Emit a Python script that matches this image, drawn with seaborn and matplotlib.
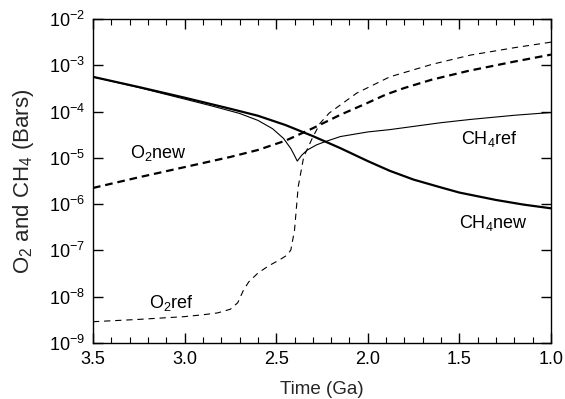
import numpy as np
import pandas as pd
import matplotlib
matplotlib.use("Agg")
import matplotlib.pyplot as plt
from matplotlib.ticker import MultipleLocator, NullLocator, FixedLocator, LogFormatterSciNotation
import seaborn as sns

# ---- data (time in Ga, log10 of pressure in bars) ----
ch4_new_t = [3.5, 3.25, 3.0, 2.75, 2.6, 2.45, 2.3, 2.15, 2.0, 1.88, 1.75, 1.6, 1.5, 1.3, 1.15, 1.0]
ch4_new_log = [-3.25, -3.47, -3.70, -3.94, -4.09, -4.29, -4.53, -4.79, -5.07, -5.28, -5.47, -5.64,
               -5.75, -5.91, -6.01, -6.09]

ch4_ref_t = [3.5, 3.25, 3.0, 2.85, 2.7, 2.6, 2.52, 2.46, 2.42, 2.40, 2.385, 2.36, 2.33, 2.28, 2.24,
             2.15, 2.0, 1.88, 1.6, 1.44, 1.2, 1.0]
ch4_ref_log = [-3.25, -3.48, -3.73, -3.88, -4.04, -4.19, -4.37, -4.58, -4.80, -4.95, -5.07, -4.94,
               -4.83, -4.72, -4.66, -4.54, -4.44, -4.39, -4.24, -4.17, -4.08, -4.02]

o2_new_t = [3.5, 3.25, 3.0, 2.75, 2.6, 2.45, 2.3, 2.15, 2.0, 1.9, 1.8, 1.65, 1.45, 1.2, 1.0]
o2_new_log = [-5.65, -5.42, -5.20, -4.98, -4.83, -4.63, -4.36, -4.07, -3.81, -3.63, -3.49, -3.31,
              -3.12, -2.92, -2.77]

o2_ref_t = [3.5, 3.25, 3.0, 2.9, 2.82, 2.75, 2.71, 2.68, 2.65, 2.60, 2.54, 2.48, 2.44, 2.42, 2.40,
            2.38, 2.35, 2.30, 2.26, 2.21, 2.06, 1.88, 1.65, 1.44, 1.2, 1.0]
o2_ref_log = [-8.54, -8.49, -8.43, -8.39, -8.35, -8.27, -8.13, -7.87, -7.68, -7.49, -7.33, -7.20,
              -7.10, -6.99, -6.56, -5.63, -4.98, -4.55, -4.25, -4.03, -3.60, -3.25, -2.98, -2.78,
              -2.62, -2.50]

labels = {
    "O$_2$new": (3.145, -4.894),
    "O$_2$ref": (3.074, -8.134),
    "CH$_4$ref": (1.336, -4.59),
    "CH$_4$new": (1.314, -6.406),
}

x_ticks = [3.5, 3.0, 2.5, 2.0, 1.5, 1.0]
y_tick_exps = [-9, -8, -7, -6, -5, -4, -3, -2]
x_label = "Time (Ga)"
y_label = "O$_2$ and CH$_4$ (Bars)"

# ---- styling ----
sns.set_theme(style="ticks")
plt.rcParams["font.family"] = ["Liberation Sans", "DejaVu Sans"]
plt.rcParams["mathtext.fontset"] = "custom"
plt.rcParams["mathtext.rm"] = "Liberation Sans"
plt.rcParams["mathtext.it"] = "Liberation Sans:italic"
plt.rcParams["mathtext.bf"] = "Liberation Sans:bold"
plt.rcParams["lines.scale_dashes"] = False
plt.rcParams["axes.linewidth"] = 1.0

fig = plt.figure(figsize=(5.65, 3.99), dpi=100)
ax = fig.add_axes([93 / 565, 1 - 343 / 399, (551 - 93) / 565, (343 - 19) / 399])

def pw(v):
    return 10.0 ** np.asarray(v, dtype=float)

sns.lineplot(x=ch4_new_t, y=pw(ch4_new_log), ax=ax, color="black", lw=1.6, sort=False)
sns.lineplot(x=ch4_ref_t, y=pw(ch4_ref_log), ax=ax, color="black", lw=0.8, sort=False)
sns.lineplot(x=o2_new_t, y=pw(o2_new_log), ax=ax, color="black", lw=1.6, sort=False,
             linestyle=(0, (5.5, 3.5)))
sns.lineplot(x=o2_ref_t, y=pw(o2_ref_log), ax=ax, color="black", lw=0.8, sort=False,
             linestyle=(0, (4.5, 3.5)))

ax.set_yscale("log")
ax.set_xlim(3.5, 1.0)
ax.set_ylim(1e-9, 1e-2)
ax.set_xticks(x_ticks)
ax.set_xticklabels([f"{t:.1f}" for t in x_ticks])
ax.xaxis.set_minor_locator(MultipleLocator(0.1))
ax.yaxis.set_major_locator(FixedLocator(pw(y_tick_exps)))
ax.yaxis.set_major_formatter(LogFormatterSciNotation())
ax.yaxis.set_minor_locator(NullLocator())

ax.tick_params(which="both", direction="in", top=True, right=True, colors="black",
               labelsize=13)
ax.tick_params(which="major", length=7, width=1.0, pad=6)
ax.tick_params(which="minor", length=4, width=0.8)
for s in ax.spines.values():
    s.set_color("black")

ax.set_xlabel(x_label, fontsize=13.5, labelpad=9)
ax.set_ylabel(y_label, fontsize=16, labelpad=9)

for txt, (tx, ly) in labels.items():
    ax.text(tx, 10 ** ly, txt, fontsize=13, ha="center", va="center", color="black")

fig.savefig("out.png", dpi=100)
